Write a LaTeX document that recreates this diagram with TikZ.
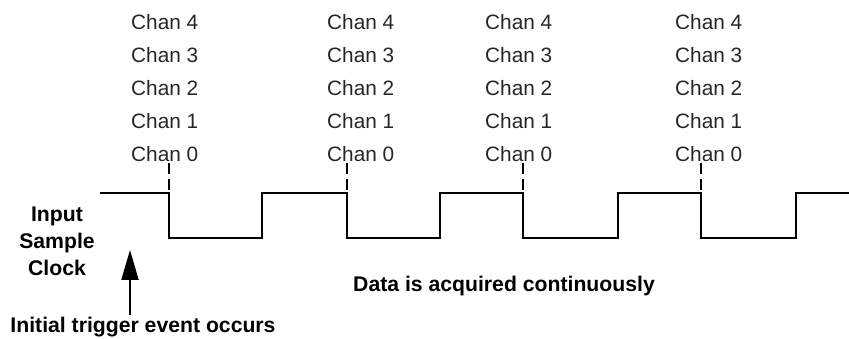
\documentclass[tikz,border=0pt]{standalone}
\usepackage{fontspec}
\setmainfont{Liberation Sans}
\usetikzlibrary{arrows.meta}
\begin{document}
\begin{tikzpicture}[x=1pt,y=-1pt,
  chan/.style={anchor=base west,inner sep=0pt,font=\fontsize{20.8}{24}\selectfont,text=black!85},
  lbl/.style={inner sep=0pt,font=\bfseries\fontsize{21.2}{27}\selectfont},
  wave/.style={line width=2pt,line join=miter},
  tick/.style={line width=1.8pt,dash pattern=on 11pt off 5pt}]
\useasboundingbox (0,0) rectangle (849,339);
% channel labels
\foreach \x/\c in {131/a,327/b,485/c,675/d}{
  \foreach \i/\y in {0/162,1/129,2/96,3/63,4/30}{
    \node[chan] (\c\i) at (\x,\y) {Chan \i};
  }
}
% waveform
\draw[wave] (100,193) -- (169,193) -- (169,238) -- (262,238) -- (262,193)
  -- (347,193) -- (347,238) -- (440,238) -- (440,193)
  -- (523,193) -- (523,238) -- (618,238) -- (618,193)
  -- (701,193) -- (701,238) -- (796,238) -- (796,193) -- (849,193);
% dashed ticks
\foreach \x in {169,347,523,701}{
  \coordinate (t\x) at (\x,163);
  \coordinate (b\x) at (\x,193);
  \draw[tick] (t\x) -- (b\x);
}
\node[lbl,align=center] (isc) at (57,241) {Input\\Sample\\Clock};
\node[lbl] (data) at (504,286) {Data is acquired continuously};
\node[lbl,anchor=base] (trig) at (143,332) {Initial trigger event occurs};
\coordinate (tip) at (130,250);
\coordinate (foot) at (130,315);
\draw[line width=2pt,-{Triangle[length=30pt,width=17pt]}] (foot) -- (tip);
\end{tikzpicture}
\end{document}
